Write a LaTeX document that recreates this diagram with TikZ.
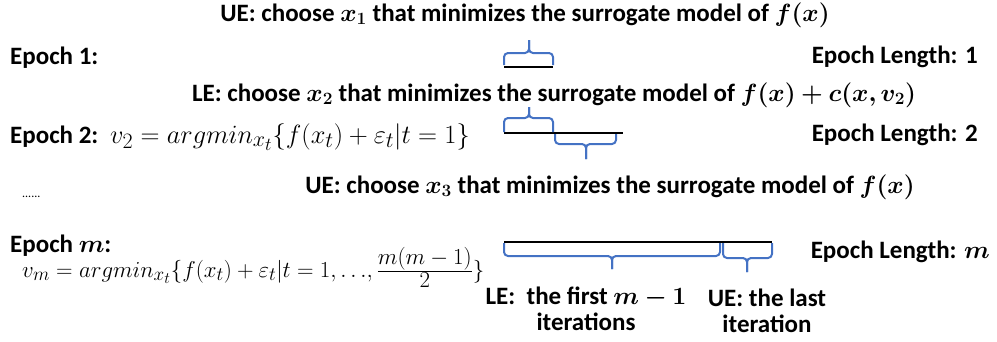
\documentclass[tikz,border=0pt]{standalone}
\usepackage{amsmath,bm}
\usepackage{fontspec}
\setmainfont{Carlito}
\definecolor{bracecol}{RGB}{68,114,196}
\newcommand\mybrace[6]{%
  \draw[brc] (#1,#4) -- (#1,#5) -- (#3,#5) -- (#3,#6);
  \draw[brc] (#2,#4) -- (#2,#5) -- (#3,#5) -- (#3,#6);}
\begin{document}
\begin{tikzpicture}[x=1pt,y=-1pt,
  txt/.style={inner sep=0pt,font=\fontsize{25}{26}\selectfont\bfseries},
  eqn/.style={inner sep=0pt,font=\fontsize{24.88}{28}\selectfont},
  brc/.style={draw=bracecol,line width=2pt,rounded corners=4pt},
  bar/.style={line width=2.5pt,black}]
\useasboundingbox (0,0) rectangle (997,341);
% texts
\node[txt,anchor=base] (ue1) at (525,21) {UE: choose $\bm{x_1}$ that minimizes the surrogate model of $\bm{f(x)}$};
\node[txt,anchor=base west] (ep1) at (10,64) {Epoch 1:};
\node[txt,anchor=base east] (len1) at (978,63) {Epoch Length: 1};
\node[txt,anchor=base] (le2) at (554,101) {LE: choose $\bm{x_2}$ that minimizes the surrogate model of $\bm{f(x)+c(x,v_2)}$};
\node[txt,anchor=base west] (ep2) at (10,143) {Epoch 2:};
\node[eqn,anchor=base west] (eq2) at (110,143) {\scalebox{1.06}{$v_2 = argmin_{x_t}\{f(x_t)+\varepsilon_t|t=1\}$}};
\node[txt,anchor=base east] (len2) at (978,141) {Epoch Length: 2};
\node[inner sep=0pt,font=\fontsize{12}{14}\selectfont,anchor=base west] (dots) at (22,197) {......};
\node[txt,anchor=base] (ue3) at (610,193) {UE: choose $\bm{x_3}$ that minimizes the surrogate model of $\bm{f(x)}$};
\node[txt,anchor=base west] (epm) at (10,252) {Epoch $\bm{m}$:};
\node[eqn,anchor=base west] (eqm) at (22,277) {\scalebox{0.92}{$v_m = argmin_{x_t}\{f(x_t)+\varepsilon_t|t=1,{\ldots},\frac{\textstyle m(m-1)}{\textstyle 2}\}$}};
\node[txt,anchor=base east] (lenm) at (990,258) {Epoch Length: $\bm{m}$};
\node[txt,align=center,anchor=base] (lem) at (586,330) {LE:\ \ the first $\bm{m-1}$\\iterations};
\node[txt,align=center,anchor=base] (uem) at (767,332) {UE: the last\\iteration};
% bars
\draw[bar] (504,67) -- (553,67);
\draw[bar] (504,133) -- (623,133);
\draw[bar] (504,242) -- (772,242);
% braces
\mybrace{504}{553}{529}{65}{53}{40}
\mybrace{504}{553}{529}{132}{118}{107}
\mybrace{555}{616}{586}{134}{144}{159}
\mybrace{504}{720}{612}{243}{256}{269}
\mybrace{723}{772}{747}{243}{258}{272}
\end{tikzpicture}
\end{document}
